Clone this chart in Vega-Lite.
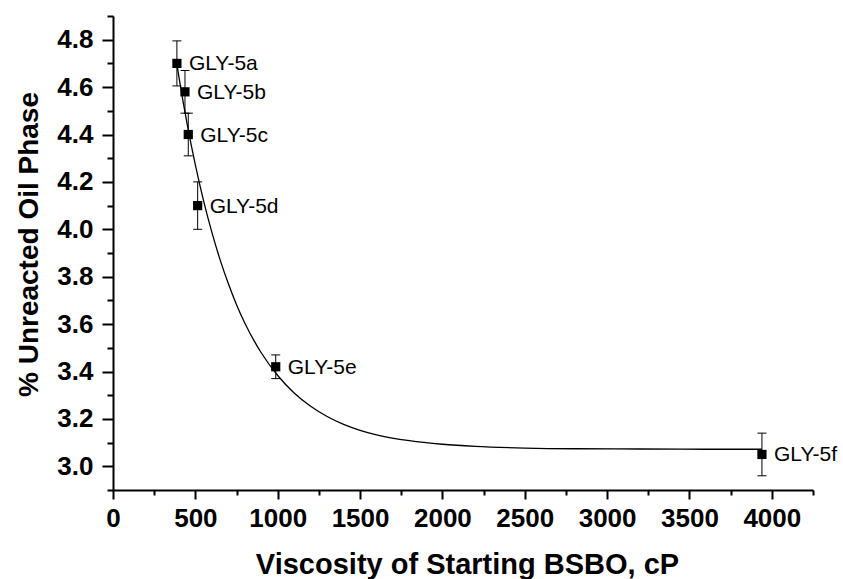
{
  "$schema": "https://vega.github.io/schema/vega-lite/v6.json",
  "width": 700,
  "height": 474,
  "autosize": "none",
  "padding": {"left": 113, "top": 16, "right": 30, "bottom": 89},
  "background": "white",
  "config": {
    "view": {"stroke": null},
    "axis": {
      "grid": false,
      "domainColor": "black",
      "domainWidth": 2,
      "tickColor": "black",
      "tickWidth": 2,
      "labelColor": "black",
      "labelFont": "Liberation Sans",
      "labelFontWeight": "bold",
      "labelFontSize": 26,
      "titleColor": "black",
      "titleFont": "Liberation Sans",
      "titleFontWeight": "bold",
      "titleFontSize": 28
    }
  },
  "datasets": {
    "samples": [
      {"sample": "GLY-5a", "viscosity": 388, "oil": 4.70, "lo": 4.605, "hi": 4.795},
      {"sample": "GLY-5b", "viscosity": 437, "oil": 4.58, "lo": 4.49, "hi": 4.67},
      {"sample": "GLY-5c", "viscosity": 457, "oil": 4.40, "lo": 4.31, "hi": 4.49},
      {"sample": "GLY-5d", "viscosity": 514, "oil": 4.10, "lo": 4.00, "hi": 4.20},
      {"sample": "GLY-5e", "viscosity": 988, "oil": 3.42, "lo": 3.37, "hi": 3.47},
      {"sample": "GLY-5f", "viscosity": 3940, "oil": 3.05, "lo": 2.96, "hi": 3.14}
    ],
    "fit": [
      {"viscosity": 387, "oil": 4.700},
      {"viscosity": 400, "oil": 4.644},
      {"viscosity": 425, "oil": 4.541},
      {"viscosity": 450, "oil": 4.445},
      {"viscosity": 475, "oil": 4.355},
      {"viscosity": 500, "oil": 4.272},
      {"viscosity": 550, "oil": 4.120},
      {"viscosity": 600, "oil": 3.988},
      {"viscosity": 650, "oil": 3.872},
      {"viscosity": 700, "oil": 3.771},
      {"viscosity": 750, "oil": 3.682},
      {"viscosity": 800, "oil": 3.605},
      {"viscosity": 900, "oil": 3.479},
      {"viscosity": 1000, "oil": 3.383},
      {"viscosity": 1100, "oil": 3.309},
      {"viscosity": 1200, "oil": 3.253},
      {"viscosity": 1300, "oil": 3.210},
      {"viscosity": 1400, "oil": 3.177},
      {"viscosity": 1500, "oil": 3.152},
      {"viscosity": 1600, "oil": 3.133},
      {"viscosity": 1800, "oil": 3.108},
      {"viscosity": 2000, "oil": 3.093},
      {"viscosity": 2200, "oil": 3.084},
      {"viscosity": 2500, "oil": 3.077},
      {"viscosity": 2800, "oil": 3.074},
      {"viscosity": 3200, "oil": 3.073},
      {"viscosity": 3600, "oil": 3.072},
      {"viscosity": 3940, "oil": 3.072}
    ]
  },
  "layer": [
    {
      "data": {"name": "fit"},
      "mark": {"type": "line", "color": "black", "strokeWidth": 1.3, "interpolate": "monotone"},
      "encoding": {
        "x": {
          "field": "viscosity", "type": "quantitative",
          "title": "Viscosity of Starting BSBO, cP",
          "scale": {"domain": [0, 4250], "nice": false, "zero": false},
          "axis": {
            "orient": "bottom",
            "values": [0, 250, 500, 750, 1000, 1250, 1500, 1750, 2000, 2250, 2500, 2750, 3000, 3250, 3500, 3750, 4000, 4250],
            "tickSize": 9,
            "tickDash": {"condition": {"test": "datum.value % 500 !== 0", "value": [5, 20]}, "value": []},
            "labelExpr": "datum.value % 500 === 0 ? format(datum.value, 'd') : ''",
            "labelPadding": 6,
            "labelFlush": false,
            "labelOverlap": false,
            "titleFontSize": 29,
            "titleX": 354,
            "titleY": 83,
            "titleBaseline": "alphabetic"
          }
        },
        "y": {
          "field": "oil", "type": "quantitative",
          "title": "% Unreacted Oil Phase",
          "scale": {"domain": [2.9, 4.9], "nice": false, "zero": false},
          "axis": {
            "orient": "left",
            "values": [3.0, 3.2, 3.4, 3.6, 3.8, 4.0, 4.2, 4.4, 4.6, 4.8],
            "format": ".1f",
            "tickSize": 11,
            "labelPadding": 9,
            "labelFlush": false,
            "labelOverlap": false,
            "titleX": -76,
            "titleY": 228,
            "titleAngle": -90,
            "titleBaseline": "alphabetic"
          }
        }
      }
    },
    {
      "data": {"name": "samples"},
      "mark": {"type": "rule", "color": "black", "strokeWidth": 1},
      "encoding": {
        "x": {"field": "viscosity", "type": "quantitative", "title": "Viscosity of Starting BSBO, cP", "scale": {"domain": [0, 4250], "nice": false, "zero": false}},
        "y": {"field": "lo", "type": "quantitative", "axis": null, "scale": {"domain": [2.9, 4.9], "nice": false, "zero": false}},
        "y2": {"field": "hi"}
      }
    },
    {
      "data": {"name": "samples"},
      "mark": {"type": "tick", "color": "black", "orient": "horizontal", "size": 9, "thickness": 1, "opacity": 1},
      "encoding": {
        "x": {"field": "viscosity", "type": "quantitative", "title": "Viscosity of Starting BSBO, cP", "scale": {"domain": [0, 4250], "nice": false, "zero": false}},
        "y": {"field": "lo", "type": "quantitative", "axis": null, "scale": {"domain": [2.9, 4.9], "nice": false, "zero": false}}
      }
    },
    {
      "data": {"name": "samples"},
      "mark": {"type": "tick", "color": "black", "orient": "horizontal", "size": 9, "thickness": 1, "opacity": 1},
      "encoding": {
        "x": {"field": "viscosity", "type": "quantitative", "title": "Viscosity of Starting BSBO, cP", "scale": {"domain": [0, 4250], "nice": false, "zero": false}},
        "y": {"field": "hi", "type": "quantitative", "axis": null, "scale": {"domain": [2.9, 4.9], "nice": false, "zero": false}}
      }
    },
    {
      "data": {"name": "samples"},
      "mark": {"type": "square", "color": "black", "filled": true, "opacity": 1, "size": 85},
      "encoding": {
        "x": {"field": "viscosity", "type": "quantitative", "title": "Viscosity of Starting BSBO, cP", "scale": {"domain": [0, 4250], "nice": false, "zero": false}},
        "y": {
          "field": "oil", "type": "quantitative",
          "scale": {"domain": [2.9, 4.9], "nice": false, "zero": false},
          "axis": {
            "orient": "left",
            "offset": 0,
            "values": [2.9, 3.1, 3.3, 3.5, 3.7, 3.9, 4.1, 4.3, 4.5, 4.7, 4.9],
            "tickSize": 6,
            "labels": false,
            "domain": false,
            "title": null
          }
        }
      }
    },
    {
      "data": {"name": "samples"},
      "mark": {"type": "text", "color": "black", "font": "Liberation Sans", "fontSize": 21, "align": "left", "baseline": "middle", "dx": 12, "dy": 1},
      "encoding": {
        "x": {"field": "viscosity", "type": "quantitative", "title": "Viscosity of Starting BSBO, cP", "scale": {"domain": [0, 4250], "nice": false, "zero": false}},
        "y": {"field": "oil", "type": "quantitative", "axis": null, "scale": {"domain": [2.9, 4.9], "nice": false, "zero": false}},
        "text": {"field": "sample"}
      }
    }
  ],
  "resolve": {"axis": {"y": "independent"}}
}
